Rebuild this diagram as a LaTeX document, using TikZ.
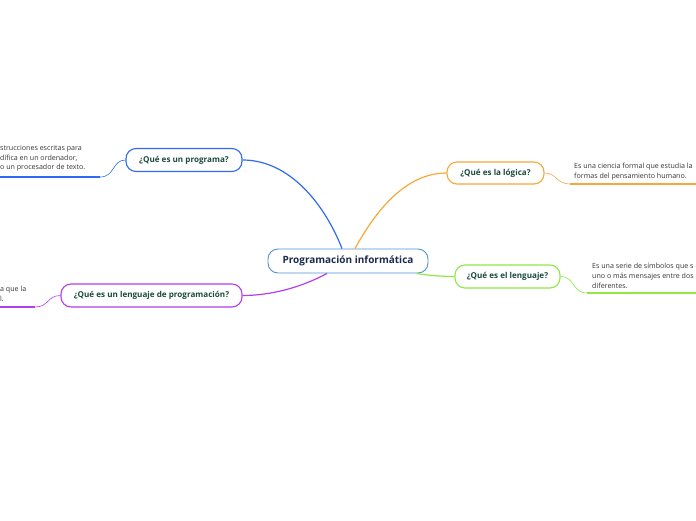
\documentclass[tikz,border=0pt]{standalone}
\usepackage{fontspec}
\setmainfont{Open Sans}
\usetikzlibrary{calc}
\definecolor{cblue}{HTML}{2F6AF2}
\definecolor{corange}{HTML}{F7A83A}
\definecolor{cgreen}{HTML}{8EE845}
\definecolor{cpurple}{HTML}{B23EEE}
\definecolor{ccentral}{HTML}{4D94D0}
\definecolor{ctext}{HTML}{1B4B3D}
\definecolor{cnavy}{HTML}{1C2A4E}
\definecolor{cleaf}{HTML}{333333}
\begin{document}
\begin{tikzpicture}[x=1pt,y=-1pt,
  topic/.style={draw, rounded corners=10pt, line width=1.1pt, fill=white, text=ctext,
    font=\bfseries\fontsize{8.1}{9.5}\selectfont, inner sep=0pt, minimum height=23pt},
  centralbox/.style={draw=ccentral, rounded corners=10pt, line width=0.9pt, fill=white, text=cnavy,
    font=\bfseries\fontsize{10}{12}\selectfont, inner sep=0pt, minimum width=160pt, minimum height=24pt},
  leaf/.style={anchor=north west, inner sep=0pt, align=left, text=cleaf,
    font=\fontsize{7.1}{9.7}\selectfont},
  mainline/.style={line width=1.2pt},
  twig/.style={line width=0.6pt},
  under/.style={line width=2pt}
]
\useasboundingbox (0,0) rectangle (696,520);
\clip (0,0) rectangle (696,520);

% nodes
\node[centralbox] (central) at (348,261) {Programación informática};
\node[topic, draw=cblue, minimum width=116pt] (prog) at (184,160) {¿Qué es un programa?};
\node[topic, draw=cpurple, minimum width=181pt] (leng) at (151.5,295.5) {¿Qué es un lenguaje de programación?};
\node[topic, draw=corange, minimum width=97pt, minimum height=22pt] (logic) at (495.5,173) {¿Qué es la lógica?};
\node[topic, draw=cgreen, minimum width=105pt] (lang) at (507.5,276.5) {¿Qué es el lenguaje?};

% leaf texts
\node[leaf] (tprog) at (0,145) {strucciones escritas para\\dífica en un ordenador,\\o un procesador de texto.};
\node[leaf] (tleng) at (0,286) {a que la\\l.};
\node[leaf] (tlogic) at (574,163) {Es una ciencia formal que estudia la\\formas del pensamiento humano.};
\node[leaf] (tlang) at (592,263) {Es una serie de símbolos que s\\uno o más mensajes entre dos\\diferentes.};

% coordinates for connector ends
\coordinate (cb) at ($(central.north)+(-6,0)$);
\coordinate (co) at ($(central.north)+(7,0)$);
\coordinate (cp) at ($(central.south)+(-21,0)$);
\coordinate (cg) at ($(central.south east)+(-12,0)$);
\coordinate (u1) at (100,177);
\coordinate (u0) at (0,177);
\coordinate (p1) at (35,307);
\coordinate (p0) at (0,307);
\coordinate (o1) at (570,184);
\coordinate (o0) at (696,184);
\coordinate (g1) at (587,293);
\coordinate (g0) at (696,293);

% main connectors
\draw[mainline, cblue] (prog.east) .. controls (290,160) and (325,205) .. (cb);
\draw[mainline, corange] (co) .. controls (375,212) and (405,173) .. (logic.west);
\draw[mainline, cpurple] (cp) .. controls (300,288) and (270,295.5) .. (leng.east);
\draw[mainline, cgreen] (cg) .. controls (425,275) and (440,276.5) .. (lang.west);

% leaf connectors
\draw[twig, cblue] (prog.west) .. controls (112,160) and (115,177) .. (u1);
\draw[under, cblue] (u1) -- (u0);
\draw[twig, cpurple] (leng.west) .. controls (47,295.5) and (49,307) .. (p1);
\draw[under, cpurple] (p1) -- (p0);
\draw[twig, corange] (logic.east) .. controls (557,173) and (556,184) .. (o1);
\draw[under, corange] (o1) -- (o0);
\draw[twig, cgreen] (lang.east) .. controls (575,276.5) and (572,293) .. (g1);
\draw[under, cgreen] (g1) -- (g0);
\end{tikzpicture}
\end{document}
